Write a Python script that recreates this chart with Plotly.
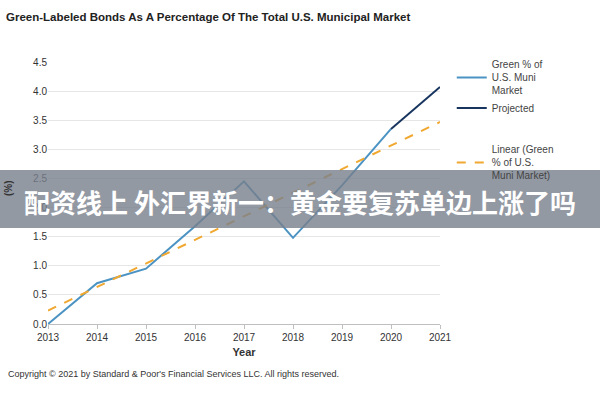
import plotly.graph_objects as go

years = [2013, 2014, 2015, 2016, 2017, 2018, 2019, 2020]
green_pct = [0.0, 0.70, 0.95, 1.68, 2.45, 1.48, 2.38, 3.35]
proj_years = [2020, 2021]
proj_vals = [3.35, 4.07]
trend_years = [2013, 2021]
trend_vals = [0.23, 3.47]
x_ticks = list(range(2013, 2022))
y_ticks = [0, 0.5, 1.0, 1.5, 2.0, 2.5, 3.0, 3.5, 4.0, 4.5]

FONT = "Liberation Sans, Arial, sans-serif"

fig = go.Figure()
fig.add_trace(go.Scatter(x=years, y=green_pct, mode="lines",
                         line=dict(color="#4b93c3", width=2),
                         name="Green % of<br>U.S. Muni<br>Market", legendgroup="a"))
fig.add_trace(go.Scatter(x=proj_years, y=proj_vals, mode="lines",
                         line=dict(color="#17355e", width=2),
                         name="Projected", legendgroup="a"))
fig.add_trace(go.Scatter(x=trend_years, y=trend_vals, mode="lines",
                         line=dict(color="#f0a830", width=2, dash="dash"),
                         name="Linear (Green<br>% of U.S.<br>Muni Market)", legendgroup="b"))

fig.update_layout(
    width=600, height=400,
    margin=dict(l=48, r=160, t=62, b=76, autoexpand=False),
    paper_bgcolor="white", plot_bgcolor="white",
    font=dict(family=FONT, size=10, color="#333333"),
    title=dict(text="<b>Green-Labeled Bonds As A Percentage Of The Total U.S. Municipal Market</b>",
               x=0.01, xanchor="left", y=0.957, yanchor="middle",
               font=dict(size=11.5, color="#222222", family=FONT)),
    legend=dict(x=1.03, xanchor="left", y=1.04, yanchor="top",
                font=dict(size=10, color="#444444"), tracegroupgap=24,
                itemwidth=30, bgcolor="rgba(0,0,0,0)"),
    xaxis=dict(range=[2013, 2021], tickvals=x_ticks, showgrid=False,
               showline=True, linecolor="#bfbfbf", ticks="outside", tickcolor="#bfbfbf",
               ticklen=4, zeroline=False, automargin=False,
               title=dict(text="<b>Year</b>", font=dict(size=11), standoff=6)),
    yaxis=dict(range=[0, 4.5], tickvals=y_ticks, tickformat=".1f", showgrid=True,
               gridcolor="#e6e6e6", zeroline=False, showline=False, ticks="",
               automargin=False),
)

fig.add_annotation(text="<b>(%)</b>", xref="paper", yref="paper",
                   x=(8 - 48) / 392, y=(324 - 188) / 262, xanchor="center", yanchor="middle",
                   textangle=-90, showarrow=False, font=dict(size=10, color="#333333", family=FONT))

fig.add_annotation(text="Copyright © 2021 by Standard &amp; Poor's Financial Services LLC. All rights reserved.",
                   xref="paper", yref="paper", x=-42 / 392, y=(324 - 374) / 262, xanchor="left", yanchor="middle",
                   showarrow=False, font=dict(size=9, color="#333333", family=FONT))

# overlay banner
fig.add_shape(type="rect", xref="paper", yref="paper", x0=-0.13, x1=1.43,
              y0=(324 - 228) / 262, y1=(324 - 170) / 262,
              fillcolor="rgba(120,128,140,0.8)", line=dict(width=0), layer="above")
fig.add_annotation(text="<b>配资线上 外汇界新一：黄金要复苏单边上涨了吗</b>",
                   xref="paper", yref="paper", x=(300 - 48) / 392, y=(324 - 201) / 262,
                   xanchor="center", yanchor="middle", showarrow=False,
                   font=dict(size=26, color="white", family="Noto Sans CJK SC"))

fig.write_html("out.html")
